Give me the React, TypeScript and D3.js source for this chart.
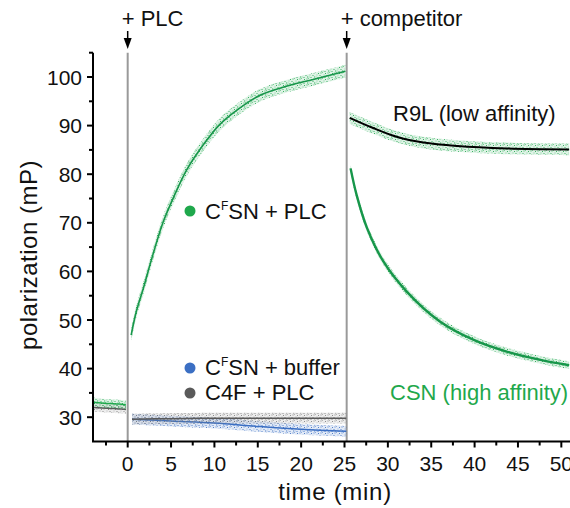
import { area, curveCatmullRom, line, range, scaleLinear } from "d3";

// (time in min, polarization in mP)
const preTime = [-3.9, -3, -2, -1, -0.2];
const preGreen = [33.1, 32.9, 32.8, 32.7, 32.5];
const preGray = [32.0, 31.9, 31.8, 31.7, 31.6];

const riseTime = [0.4, 1.0, 1.8, 2.9, 4.1, 5.4, 6.8, 8.7, 10.6, 12.6, 15.2, 18.3, 21.4, 25.1];
const riseValue = [46.9, 51.8, 56.5, 63.4, 70.2, 75.7, 80.9, 86.0, 90.2, 93.2, 96.2, 98.1, 99.5, 101.2];

const lowTime = [0.5, 5, 10, 15, 20, 25.2];
const bufferValue = [29.6, 29.2, 28.8, 28.1, 27.5, 27.1];
const c4fValue = [29.6, 29.7, 29.8, 29.8, 29.8, 29.8];

const r9lTime = [25.6, 28.3, 31, 34.1, 38, 43.7, 50.9];
const r9lValue = [91.6, 89.5, 87.7, 86.5, 85.8, 85.3, 85.1];

const csnTime = [25.7, 26.4, 27.6, 29.5, 32.2, 36, 39.9, 43.7, 47.6, 50.9];
const csnValue = [81.2, 75.7, 68.9, 62.0, 55.8, 49.7, 45.9, 43.5, 41.8, 40.7];

// scatter spread (+/- mP) around each trace
const spread = { pre: 0.9, rise: 1.3, low: 1.1, r9l: 1.2, csn: 0.8 };

const xTicks = range(0, 51, 5);
const xMinor = range(-2.5, 51, 5);
const yTicks = range(30, 101, 10);
const yMinor = range(35, 106, 10);

const green = "#1fa84c";
const greenDark = "#17964a";
const blue = "#3b6fc3";
const gray = "#5a5a5a";

// speckle positions inside one 7x6 texture tile
const speckles = [
  [0, 0], [3, 1], [5.5, 0.5], [1.5, 2.5], [4.5, 3], [6, 4.5], [0.5, 4.5], [2.5, 5]
];

type Pt = { t: number; v: number };
const zip = (t: number[], v: number[]): Pt[] => t.map((tt, i) => ({ t: tt, v: v[i] }));

export default function App() {
  const width = 570;
  const height = 508;
  const x = scaleLinear().domain([-4, 51]).range([93, 570]);
  const y = scaleLinear().domain([25, 105]).range([441.5, 52.7]);

  const curve = curveCatmullRom.alpha(0.5);
  const fit = line<Pt>()
    .x((d) => x(d.t))
    .y((d) => y(d.v))
    .curve(curve);
  const band = (w: number) =>
    area<Pt>()
      .x((d) => x(d.t))
      .y0((d) => y(d.v - w))
      .y1((d) => y(d.v + w))
      .curve(curve);

  const traces = [
    { pts: zip(preTime, preGray), w: spread.pre, dot: "#7d7d7d", stroke: gray, sw: 1.5 },
    { pts: zip(preTime, preGreen), w: spread.pre, dot: green, stroke: green, sw: 1.5 },
    { pts: zip(lowTime, bufferValue), w: spread.low, dot: blue, stroke: blue, sw: 1.5 },
    { pts: zip(lowTime, c4fValue), w: spread.low, dot: "#7d7d7d", stroke: gray, sw: 1.5 },
    { pts: zip(riseTime, riseValue), w: spread.rise, dot: green, stroke: greenDark, sw: 1.6 },
    { pts: zip(r9lTime, r9lValue), w: spread.r9l, dot: green, stroke: "#000", sw: 2 },
    { pts: zip(csnTime, csnValue), w: spread.csn, dot: green, stroke: greenDark, sw: 2.4 }
  ];

  const x0 = x(-4);
  const yBase = y(25);
  const yTop = y(105);
  const markers = [
    { t: 0, label: "+ PLC" },
    { t: 25.25, label: "+ competitor" }
  ];

  return (
    <div style={{ position: "absolute", left: 0, top: 0 }}>
      <svg width={width} height={height} fontFamily="'Liberation Sans', Arial, sans-serif">
        <defs>
          {traces.map((tr, i) => (
            <pattern key={i} id={`spk${i}`} width="7" height="6" patternUnits="userSpaceOnUse">
              {speckles.map(([sx, sy], k) => (
                <rect key={k} x={sx} y={sy} width="1" height="1" fill={tr.dot} opacity={k % 3 === 0 ? 0.5 : 0.85} />
              ))}
            </pattern>
          ))}
        </defs>

        {markers.map((m) => (
          <g key={m.label}>
            <line x1={x(m.t)} x2={x(m.t)} y1={yTop} y2={yBase} stroke="#9a9a9a" strokeWidth={2} />
            <line x1={x(m.t)} x2={x(m.t)} y1={31} y2={40} stroke="#000" strokeWidth={1.5} />
            <path d={`M${x(m.t) - 4},${38} L${x(m.t) + 4},${38} L${x(m.t)},${49} Z`} fill="#000" />
            <text x={x(m.t) - 6} y={26} fontSize={22} fill="#111">
              {m.label}
            </text>
          </g>
        ))}

        {traces.map((tr, i) => (
          <g key={i}>
            <path d={band(tr.w)(tr.pts) ?? ""} fill={tr.dot} opacity={0.14} />
            <path d={band(tr.w)(tr.pts) ?? ""} fill={`url(#spk${i})`} />
            <path d={fit(tr.pts) ?? ""} fill="none" stroke={tr.stroke} strokeWidth={tr.sw} />
          </g>
        ))}

        {/* axes */}
        <line x1={x0} x2={x0} y1={yTop} y2={yBase} stroke="#000" strokeWidth={2} />
        <line x1={x0 - 1} x2={width} y1={yBase} y2={yBase} stroke="#000" strokeWidth={2} />
        {yTicks.map((v) => (
          <g key={v}>
            <line x1={x0 - 6} x2={x0} y1={y(v)} y2={y(v)} stroke="#000" strokeWidth={2} />
            <text x={x0 - 11} y={y(v) + 7.5} textAnchor="end" fontSize={21} fill="#111">
              {v}
            </text>
          </g>
        ))}
        {yMinor.map((v) => (
          <line key={v} x1={x0 - 4} x2={x0} y1={y(v)} y2={y(v)} stroke="#000" strokeWidth={2} />
        ))}
        {xTicks.map((t) => (
          <g key={t}>
            <line x1={x(t)} x2={x(t)} y1={yBase} y2={yBase + 6} stroke="#000" strokeWidth={2} />
            <text x={x(t)} y={471} textAnchor="middle" fontSize={21} fill="#111">
              {t}
            </text>
          </g>
        ))}
        {xMinor.map((t) => (
          <line key={t} x1={x(t)} x2={x(t)} y1={yBase} y2={yBase + 4} stroke="#000" strokeWidth={2} />
        ))}
        <text x={335} y={500} textAnchor="middle" fontSize={24} letterSpacing={0.7} fill="#111">
          time (min)
        </text>
        <text
          transform="translate(37,255) rotate(-90)"
          textAnchor="middle"
          fontSize={24}
          letterSpacing={0.5}
          fill="#111"
        >
          polarization (mP)
        </text>

        {/* legend */}
        <circle cx={190} cy={211} r={5.5} fill={green} />
        <text x={205} y={218.5} fontSize={22} fill="#111">
          C<tspan fontSize={12} dy={-9}>F</tspan>
          <tspan dy={9}>SN + PLC</tspan>
        </text>
        <circle cx={190} cy={368} r={5.5} fill={blue} />
        <text x={205} y={375} fontSize={22} fill="#111">
          C<tspan fontSize={12} dy={-9}>F</tspan>
          <tspan dy={9}>SN + buffer</tspan>
        </text>
        <circle cx={190} cy={393} r={5.5} fill={gray} />
        <text x={205} y={400} fontSize={22} fill="#111">
          C4F + PLC
        </text>

        <text x={393} y={121} fontSize={22} fill="#111">
          R9L (low affinity)
        </text>
        <text x={390} y={400} fontSize={22} fill={green}>
          CSN (high affinity)
        </text>
      </svg>
    </div>
  );
}
